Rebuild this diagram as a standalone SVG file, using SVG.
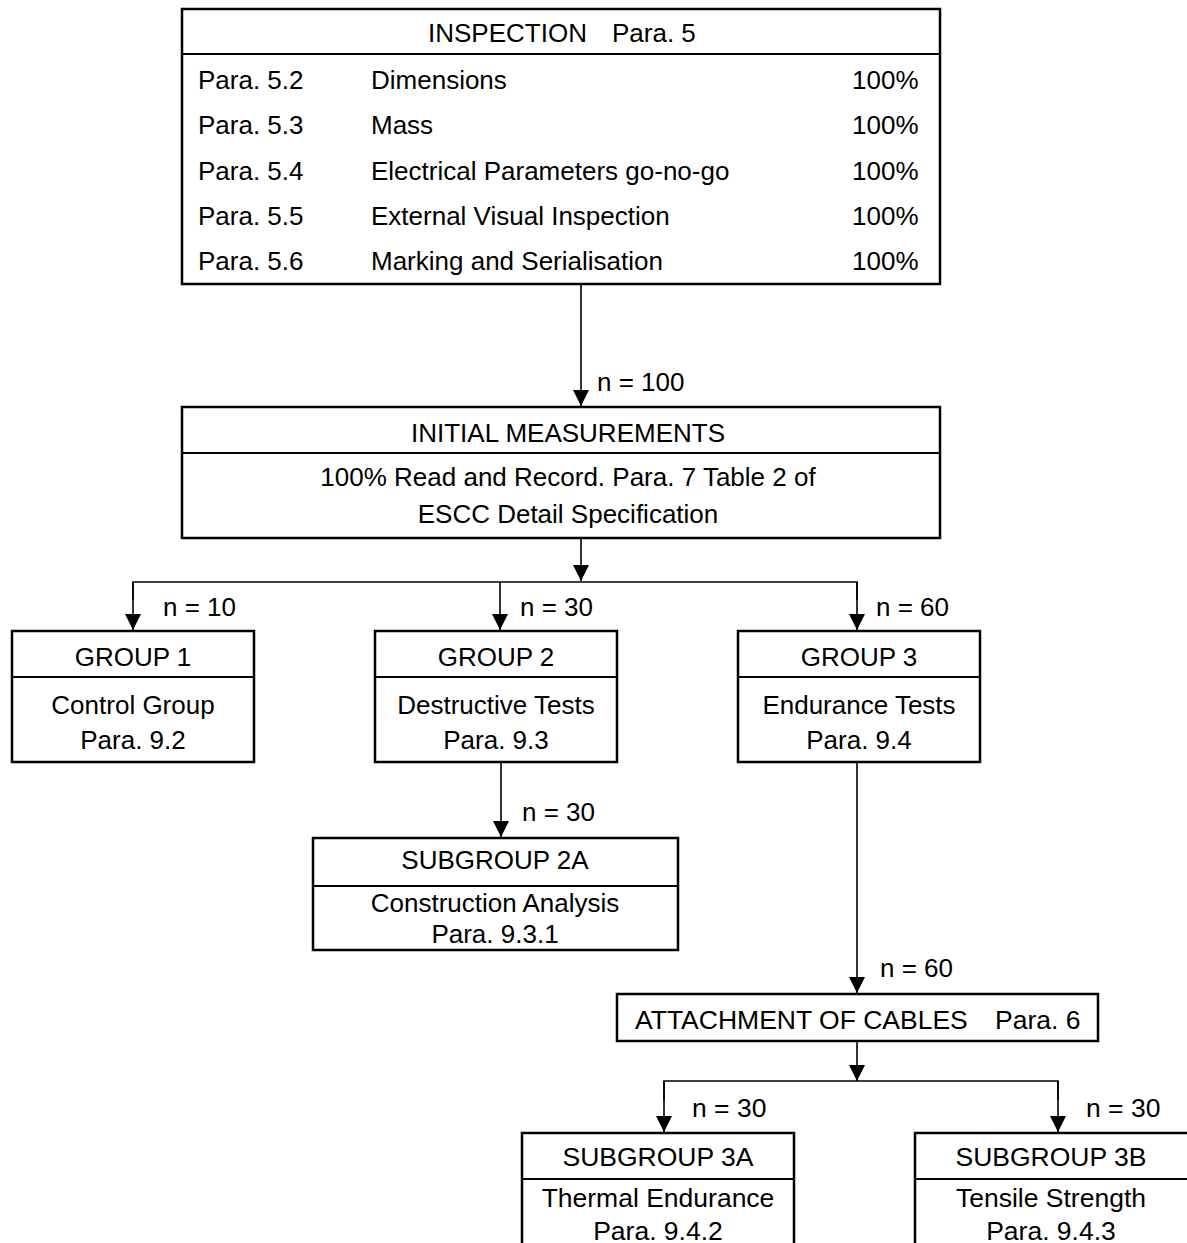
<svg xmlns="http://www.w3.org/2000/svg" width="1187" height="1243" viewBox="0 0 1187 1243">
<style>
text{font-family:"Liberation Sans",Arial,sans-serif;font-size:26px;fill:#000}
.c{text-anchor:middle}
.b{font-size:26.5px}
.box{fill:#fff;stroke:#000;stroke-width:2.5}
.div{stroke:#000;stroke-width:2}
.ln{fill:none;stroke:#000;stroke-width:1.6}
</style>
<defs>
<marker id="ah" markerUnits="userSpaceOnUse" markerWidth="16" markerHeight="22" refX="16" refY="8" orient="auto" viewBox="0 0 16 16">
<path d="M0,0 L16,8 L0,16 Z" fill="#000"/>
</marker>
</defs>
<rect width="1187" height="1243" fill="#fff"/>
<g id="connectors">
<line class="ln" x1="581" y1="285" x2="581" y2="406" marker-end="url(#ah)"/>
<line class="ln" x1="581" y1="538" x2="581" y2="581" marker-end="url(#ah)"/>
<polyline class="ln" points="133,600 133,582 857,582 857,600"/>
<line class="ln" x1="133" y1="582" x2="133" y2="630" marker-end="url(#ah)"/>
<line class="ln" x1="500" y1="582" x2="500" y2="630" marker-end="url(#ah)"/>
<line class="ln" x1="857" y1="582" x2="857" y2="630" marker-end="url(#ah)"/>
<line class="ln" x1="501" y1="762" x2="501" y2="837" marker-end="url(#ah)"/>
<line class="ln" x1="857" y1="762" x2="857" y2="993" marker-end="url(#ah)"/>
<line class="ln" x1="857" y1="1041" x2="857" y2="1081" marker-end="url(#ah)"/>
<polyline class="ln" points="664,1100 664,1081 1058,1081 1058,1100"/>
<line class="ln" x1="664" y1="1081" x2="664" y2="1132" marker-end="url(#ah)"/>
<line class="ln" x1="1058" y1="1081" x2="1058" y2="1132" marker-end="url(#ah)"/>
<text x="597" y="391">n = 100</text>
<text x="163" y="616">n = 10</text>
<text x="520" y="616">n = 30</text>
<text x="876" y="616">n = 60</text>
<text x="522" y="821">n = 30</text>
<text x="880" y="977">n = 60</text>
<text class="b" x="692" y="1117">n = 30</text>
<text class="b" x="1086" y="1117">n = 30</text>
</g>
<g id="inspection">
<rect class="box" x="182" y="9" width="758" height="275"/>
<line class="div" x1="182" y1="54" x2="940" y2="54"/>
<text x="428" y="42">INSPECTION</text>
<text x="612" y="42">Para. 5</text>
<text x="198" y="89">Para. 5.2</text><text x="371" y="89">Dimensions</text><text x="852" y="89">100%</text>
<text x="198" y="134">Para. 5.3</text><text x="371" y="134">Mass</text><text x="852" y="134">100%</text>
<text x="198" y="180">Para. 5.4</text><text x="371" y="180">Electrical Parameters go-no-go</text><text x="852" y="180">100%</text>
<text x="198" y="225">Para. 5.5</text><text x="371" y="225">External Visual Inspection</text><text x="852" y="225">100%</text>
<text x="198" y="270">Para. 5.6</text><text x="371" y="270">Marking and Serialisation</text><text x="852" y="270">100%</text>
</g>
<g id="initial">
<rect class="box" x="182" y="407" width="758" height="131"/>
<line class="div" x1="182" y1="453" x2="940" y2="453"/>
<text class="c" x="568" y="442">INITIAL MEASUREMENTS</text>
<text class="c" x="568" y="486">100% Read and Record. Para. 7 Table 2 of</text>
<text class="c" x="568" y="523">ESCC Detail Specification</text>
</g>
<g id="group1">
<rect class="box" x="12" y="631" width="242" height="131"/>
<line class="div" x1="12" y1="677" x2="254" y2="677"/>
<text class="c" x="133" y="666">GROUP 1</text>
<text class="c" x="133" y="714">Control Group</text>
<text class="c" x="133" y="749">Para. 9.2</text>
</g>
<g id="group2">
<rect class="box" x="375" y="631" width="242" height="131"/>
<line class="div" x1="375" y1="677" x2="617" y2="677"/>
<text class="c" x="496" y="666">GROUP 2</text>
<text class="c" x="496" y="714">Destructive Tests</text>
<text class="c" x="496" y="749">Para. 9.3</text>
</g>
<g id="group3">
<rect class="box" x="738" y="631" width="242" height="131"/>
<line class="div" x1="738" y1="677" x2="980" y2="677"/>
<text class="c" x="859" y="666">GROUP 3</text>
<text class="c" x="859" y="714">Endurance Tests</text>
<text class="c" x="859" y="749">Para. 9.4</text>
</g>
<g id="subgroup2a">
<rect class="box" x="313" y="838" width="365" height="112"/>
<line class="div" x1="313" y1="886" x2="678" y2="886"/>
<text class="c" x="495" y="869">SUBGROUP 2A</text>
<text class="c" x="495" y="912">Construction Analysis</text>
<text class="c" x="495" y="943">Para. 9.3.1</text>
</g>
<g id="attachment">
<rect class="box" x="617" y="994" width="481" height="47"/>
<text class="b" x="635" y="1029">ATTACHMENT OF CABLES</text>
<text class="b" x="995" y="1029">Para. 6</text>
</g>
<g id="subgroup3a">
<rect class="box" x="522" y="1133" width="272" height="130"/>
<line class="div" x1="522" y1="1179" x2="794" y2="1179"/>
<text class="c b" x="658" y="1166">SUBGROUP 3A</text>
<text class="c b" x="658" y="1207">Thermal Endurance</text>
<text class="c b" x="658" y="1240">Para. 9.4.2</text>
</g>
<g id="subgroup3b">
<rect class="box" x="915" y="1133" width="290" height="130"/>
<line class="div" x1="915" y1="1179" x2="1205" y2="1179"/>
<text class="c b" x="1051" y="1166">SUBGROUP 3B</text>
<text class="c b" x="1051" y="1207">Tensile Strength</text>
<text class="c b" x="1051" y="1240">Para. 9.4.3</text>
</g>
</svg>
